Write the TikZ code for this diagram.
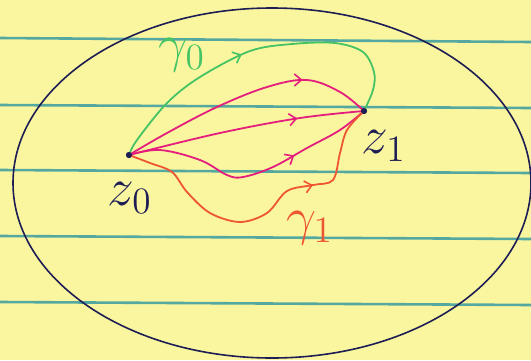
\documentclass[tikz,border=0pt]{standalone}
\usepackage{graphicx}
\usetikzlibrary{arrows.meta,decorations.markings}
\definecolor{paper}{RGB}{250,246,160}
\definecolor{rule}{RGB}{85,168,160}
\definecolor{ink}{RGB}{30,30,85}
\definecolor{gpen}{RGB}{70,195,100}
\definecolor{mpen}{RGB}{228,30,125}
\definecolor{rpen}{RGB}{238,85,50}
\tikzset{
  pen/.style={line width=1.8pt, line cap=round, line join=round},
  midarrow/.style={decoration={markings, mark=at position #1 with {\arrow{Straight Barb[length=7pt,width=12pt,line width=1.6pt]}}}, postaction=decorate},
  dot/.style={circle, fill=ink, inner sep=0pt, minimum size=6pt},
  lab/.style={text=ink, font=\LARGE, inner sep=0pt},
}
\newcommand{\biglab}[1]{\scalebox{3.1}{$#1$}}
\begin{document}
\begin{tikzpicture}[x=1pt,y=-1pt]
\fill[paper] (0,0) rectangle (531,360);
\useasboundingbox (0,0) rectangle (531,360);
\foreach \y/\yy in {38/42,105/108,170/173,236/239,302/305}
  \draw[rule, line width=2.6pt] (0,\y) -- (531,\yy);
\draw[ink, line width=1.6pt] (272,183) ellipse [x radius=259, y radius=175];
\node[dot] (z0) at (129,155) {};
\node[dot] (z1) at (364,111) {};
% green gamma0
\draw[pen, gpen, midarrow=0.45] plot[smooth, tension=0.55] coordinates {(z0) (137,140) (167,103) (200,77) (250,51) (292,44) (335,43) (363,52) (374,72) (373,90) (z1)};
% magenta paths
\draw[pen, mpen, midarrow=0.73] plot[smooth, tension=0.6] coordinates {(z0) (167,133) (217,107) (267,87) (307,80) (340,92) (z1)};
\draw[pen, mpen, midarrow=0.72] plot[smooth, tension=0.6] coordinates {(z0) (220,133) (300,118) (z1)};
\draw[pen, mpen, midarrow=0.68] plot[smooth, tension=0.6] coordinates {(z0) (160,150) (200,160) (227,175) (243,177) (273,167) (307,148) (340,130) (z1)};
% red gamma1
\draw[pen, rpen, midarrow=0.69] plot[smooth, tension=0.55] coordinates {(z0) (150,163) (172,172) (187,192) (210,213) (240,222) (267,213) (287,191) (313,185) (333,180) (340,153) (347,130) (z1)};
\node[dot] at (z0) {};
\node[dot] at (z1) {};
\node[lab] (l0) at (130,198) {\biglab{z_0}};
\node[lab] (l1) at (384,146) {\biglab{z_1}};
\node[lab, text=gpen] (g0) at (182,55) {\biglab{\gamma_0}};
\node[lab, text=rpen] (g1) at (310,228) {\biglab{\gamma_1}};
\end{tikzpicture}
\end{document}
